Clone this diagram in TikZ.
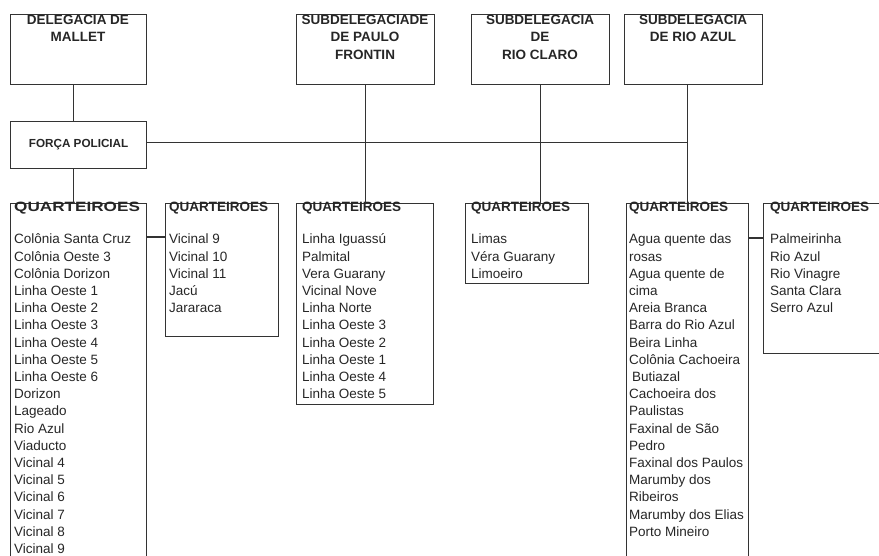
\documentclass[tikz,border=0pt]{standalone}
\usepackage{fontspec}
\setmainfont{Liberation Sans}
\usepackage{graphicx}
\usepackage{tikz}
\usetikzlibrary{positioning}
\tikzset{
  box/.style={draw=black!80, line width=1.2pt, inner sep=0pt, anchor=north west},
  link/.style={draw=black!80, line width=1.2pt},
  title/.style={inner sep=0pt, anchor=base, text=black!85, font=\fontsize{13.5}{17.3}\selectfont\bfseries},
  list/.style={inner sep=0pt, anchor=base west, text=black!85, font=\fontsize{13.5}{17.2}\selectfont},
}
\newcommand{\qhead}{\textbf{QUARTEIROES}\\[14.8pt]}

\begin{document}
\begin{tikzpicture}[x=1pt,y=-1pt]
    \clip (0,0) rectangle (879,556);
    % delegacia e subdelegacias
    \node[box, minimum width=136pt, minimum height=70pt] (mallet) at (10,14) {};
    \node[box, minimum width=138pt, minimum height=70pt] (paulo) at (296,14) {};
    \node[box, minimum width=138pt, minimum height=70pt] (claro) at (471,14) {};
    \node[box, minimum width=138pt, minimum height=70pt] (azul) at (624,14) {};
    \node[title] (mallet-t) at (78,24.5) {\begin{tabular}[t]{@{}c@{}}DELEGACIA DE\\MALLET\end{tabular}};
    \node[title] (paulo-t) at (365,24.5) {\begin{tabular}[t]{@{}c@{}}SUBDELEGACIADE\\DE PAULO\\FRONTIN\end{tabular}};
    \node[title] (claro-t) at (540,24.5) {\begin{tabular}[t]{@{}c@{}}SUBDELEGACIA\\DE\\RIO CLARO\end{tabular}};
    \node[title] (azul-t) at (693,24.5) {\begin{tabular}[t]{@{}c@{}}SUBDELEGACIA\\DE RIO AZUL\end{tabular}};
    \node[box, minimum width=136pt, minimum height=47pt, text=black!85,
          font=\fontsize{11.7}{14}\selectfont\bfseries] (forca) at (10,121) {FORÇA POLICIAL};

    % quarteiroes
    \node[box, minimum width=136pt, minimum height=420pt] (q1) at (10,203) {};
    \node[box, minimum width=113pt, minimum height=133pt] (q2) at (165,203) {};
    \node[box, minimum width=137pt, minimum height=201pt] (q3) at (296,203) {};
    \node[box, minimum width=123pt, minimum height=80pt] (q4) at (465,203) {};
    \node[box, minimum width=122pt, minimum height=420pt] (q5) at (626,203) {};
    \node[box, minimum width=140pt, minimum height=150pt] (q6) at (763,203) {};

    \node[list] (q1-t) at (14,212) {\begin{tabular}[t]{@{}l@{}}
      \scalebox{1.27}[1]{\textbf{QUARTEIROES}}\\[14.8pt]
      Colônia Santa Cruz\\Colônia Oeste 3\\Colônia Dorizon\\Linha Oeste 1\\Linha Oeste 2\\
      Linha Oeste 3\\Linha Oeste 4\\Linha Oeste 5\\Linha Oeste 6\\Dorizon\\Lageado\\
      Rio Azul\\Viaducto\\Vicinal 4\\Vicinal 5\\Vicinal 6\\Vicinal 7\\Vicinal 8\\Vicinal 9
    \end{tabular}};
    \node[list] (q2-t) at (169,212) {\begin{tabular}[t]{@{}l@{}}
      \qhead Vicinal 9\\Vicinal 10\\Vicinal 11\\Jacú\\Jararaca
    \end{tabular}};
    \node[list] (q3-t) at (302,212) {\begin{tabular}[t]{@{}l@{}}
      \qhead Linha Iguassú\\Palmital\\Vera Guarany\\Vicinal Nove\\Linha Norte\\
      Linha Oeste 3\\Linha Oeste 2\\Linha Oeste 1\\Linha Oeste 4\\Linha Oeste 5
    \end{tabular}};
    \node[list] (q4-t) at (471,212) {\begin{tabular}[t]{@{}l@{}}
      \qhead Limas\\Véra Guarany\\Limoeiro
    \end{tabular}};
    \node[list] (q5-t) at (629,212) {\begin{tabular}[t]{@{}l@{}}
      \qhead Agua quente das\\rosas\\Agua quente de\\cima\\Areia Branca\\Barra do Rio Azul\\
      Beira Linha\\Colônia Cachoeira\\\hspace{3pt}Butiazal\\Cachoeira dos\\Paulistas\\
      Faxinal de São\\Pedro\\Faxinal dos Paulos\\Marumby dos\\Ribeiros\\Marumby dos Elias\\
      Porto Mineiro
    \end{tabular}};
    \node[list] (q6-t) at (770,212) {\begin{tabular}[t]{@{}l@{}}
      \qhead Palmeirinha\\Rio Azul\\Rio Vinagre\\Santa Clara\\Serro Azul
    \end{tabular}};

    % ligacoes
    \draw[link] ([xshift=-5pt]mallet.south) -- ([xshift=-5pt]forca.north);
    \draw[link] ([xshift=-5pt]forca.south) -- ([xshift=-5pt]q1.north);
    \draw[link] ([yshift=2.5pt]forca.east) -- ([yshift=2.5pt]forca.east -| q5.north);
    \draw[link] (paulo.south) -- (paulo.south |- q3.north);
    \draw[link] (claro.south) -- (claro.south |- q4.north);
    \draw[link] (q5.north |- azul.south) -- (q5.north);
    \draw[link] ([yshift=-34pt]q1.north east) -- ([yshift=-34pt]q2.north west);
    \draw[link] ([yshift=-35pt]q5.north east) -- ([yshift=-35pt]q6.north west);
\end{tikzpicture}
\end{document}
